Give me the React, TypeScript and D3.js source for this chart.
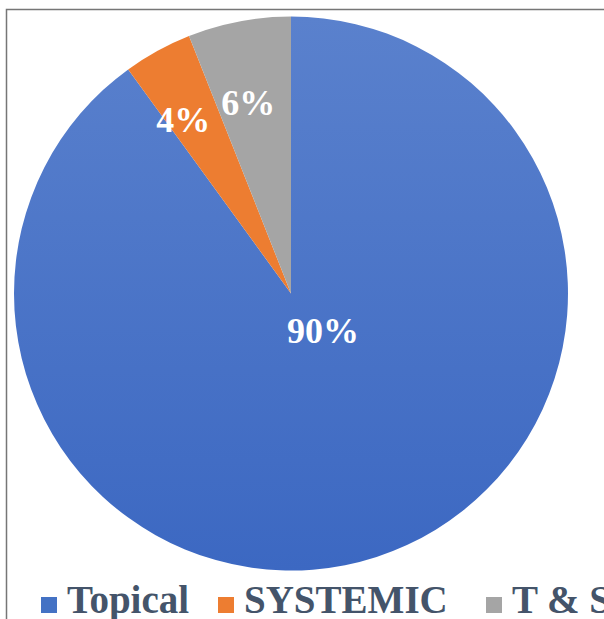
import React from "react";
import * as d3 from "d3";

// Share of treatment type
const categories = ["Topical", "SYSTEMIC", "T & S"];
const values = [90, 4, 6];
const colors = ["#4472C4", "#ED7D31", "#A5A5A5"];

const cx = 291;
const cy = 293.5;
const R = 277;

export default function App() {
  const pie = d3.pie<number>().sort(null).value((d) => d);
  const arcs = pie(values);
  const arc = d3.arc<d3.PieArcDatum<number>>().innerRadius(0).outerRadius(R);

  // label anchors: small slices sit at ~0.7 of the radius, the big slice near the centre
  const nudge: [number, number][] = [[0, 0], [-9, 6], [-7, -3]];
  const labelPos = (a: d3.PieArcDatum<number>, i: number): [number, number] => {
    if (i === 0) return [cx + 32, cy + 37];
    const mid = (a.startAngle + a.endAngle) / 2;
    const rr = i === 1 ? 0.74 * R : 0.69 * R;
    return [cx + rr * Math.sin(mid) + nudge[i][0], cy - rr * Math.cos(mid) + nudge[i][1]];
  };

  const legendX = [41, 218, 486];

  return (
    <svg width={604} height={619} style={{ position: "absolute", left: 0, top: 0 }}>
      <defs>
        <linearGradient id="blueFill" x1="0" y1="0" x2="0" y2="1">
          <stop offset="0%" stopColor="#5A81CD" />
          <stop offset="100%" stopColor="#3C68C2" />
        </linearGradient>
      </defs>
      <path d="M6.5,619 V9.5 H604" fill="none" stroke="#767676" strokeWidth={1.5} />
      <g transform={`translate(${cx},${cy})`}>
        {arcs.map((a, i) => (
          <path key={i} d={arc(a) || ""} fill={i === 0 ? "url(#blueFill)" : colors[i]} />
        ))}
      </g>
      {arcs.map((a, i) => {
        const [x, y] = labelPos(a, i);
        return (
          <text
            key={"l" + i}
            x={x}
            y={y + 12}
            textAnchor="middle"
            fill="#fff"
            fontFamily="Liberation Serif"
            fontWeight="bold"
            fontSize={36}
          >
            {values[i]}%
          </text>
        );
      })}
      {categories.map((c, i) => (
        <rect key={"s" + i} x={legendX[i]} y={597} width={16} height={16} fill={colors[i]} />
      ))}
      {categories.map((c, i) => (
        <text
          key={c}
          x={legendX[i] + 26}
          y={613}
          fill="#44546A"
          fontFamily="Liberation Serif"
          fontWeight="bold"
          fontSize={39}
        >
          {c}
        </text>
      ))}
    </svg>
  );
}
